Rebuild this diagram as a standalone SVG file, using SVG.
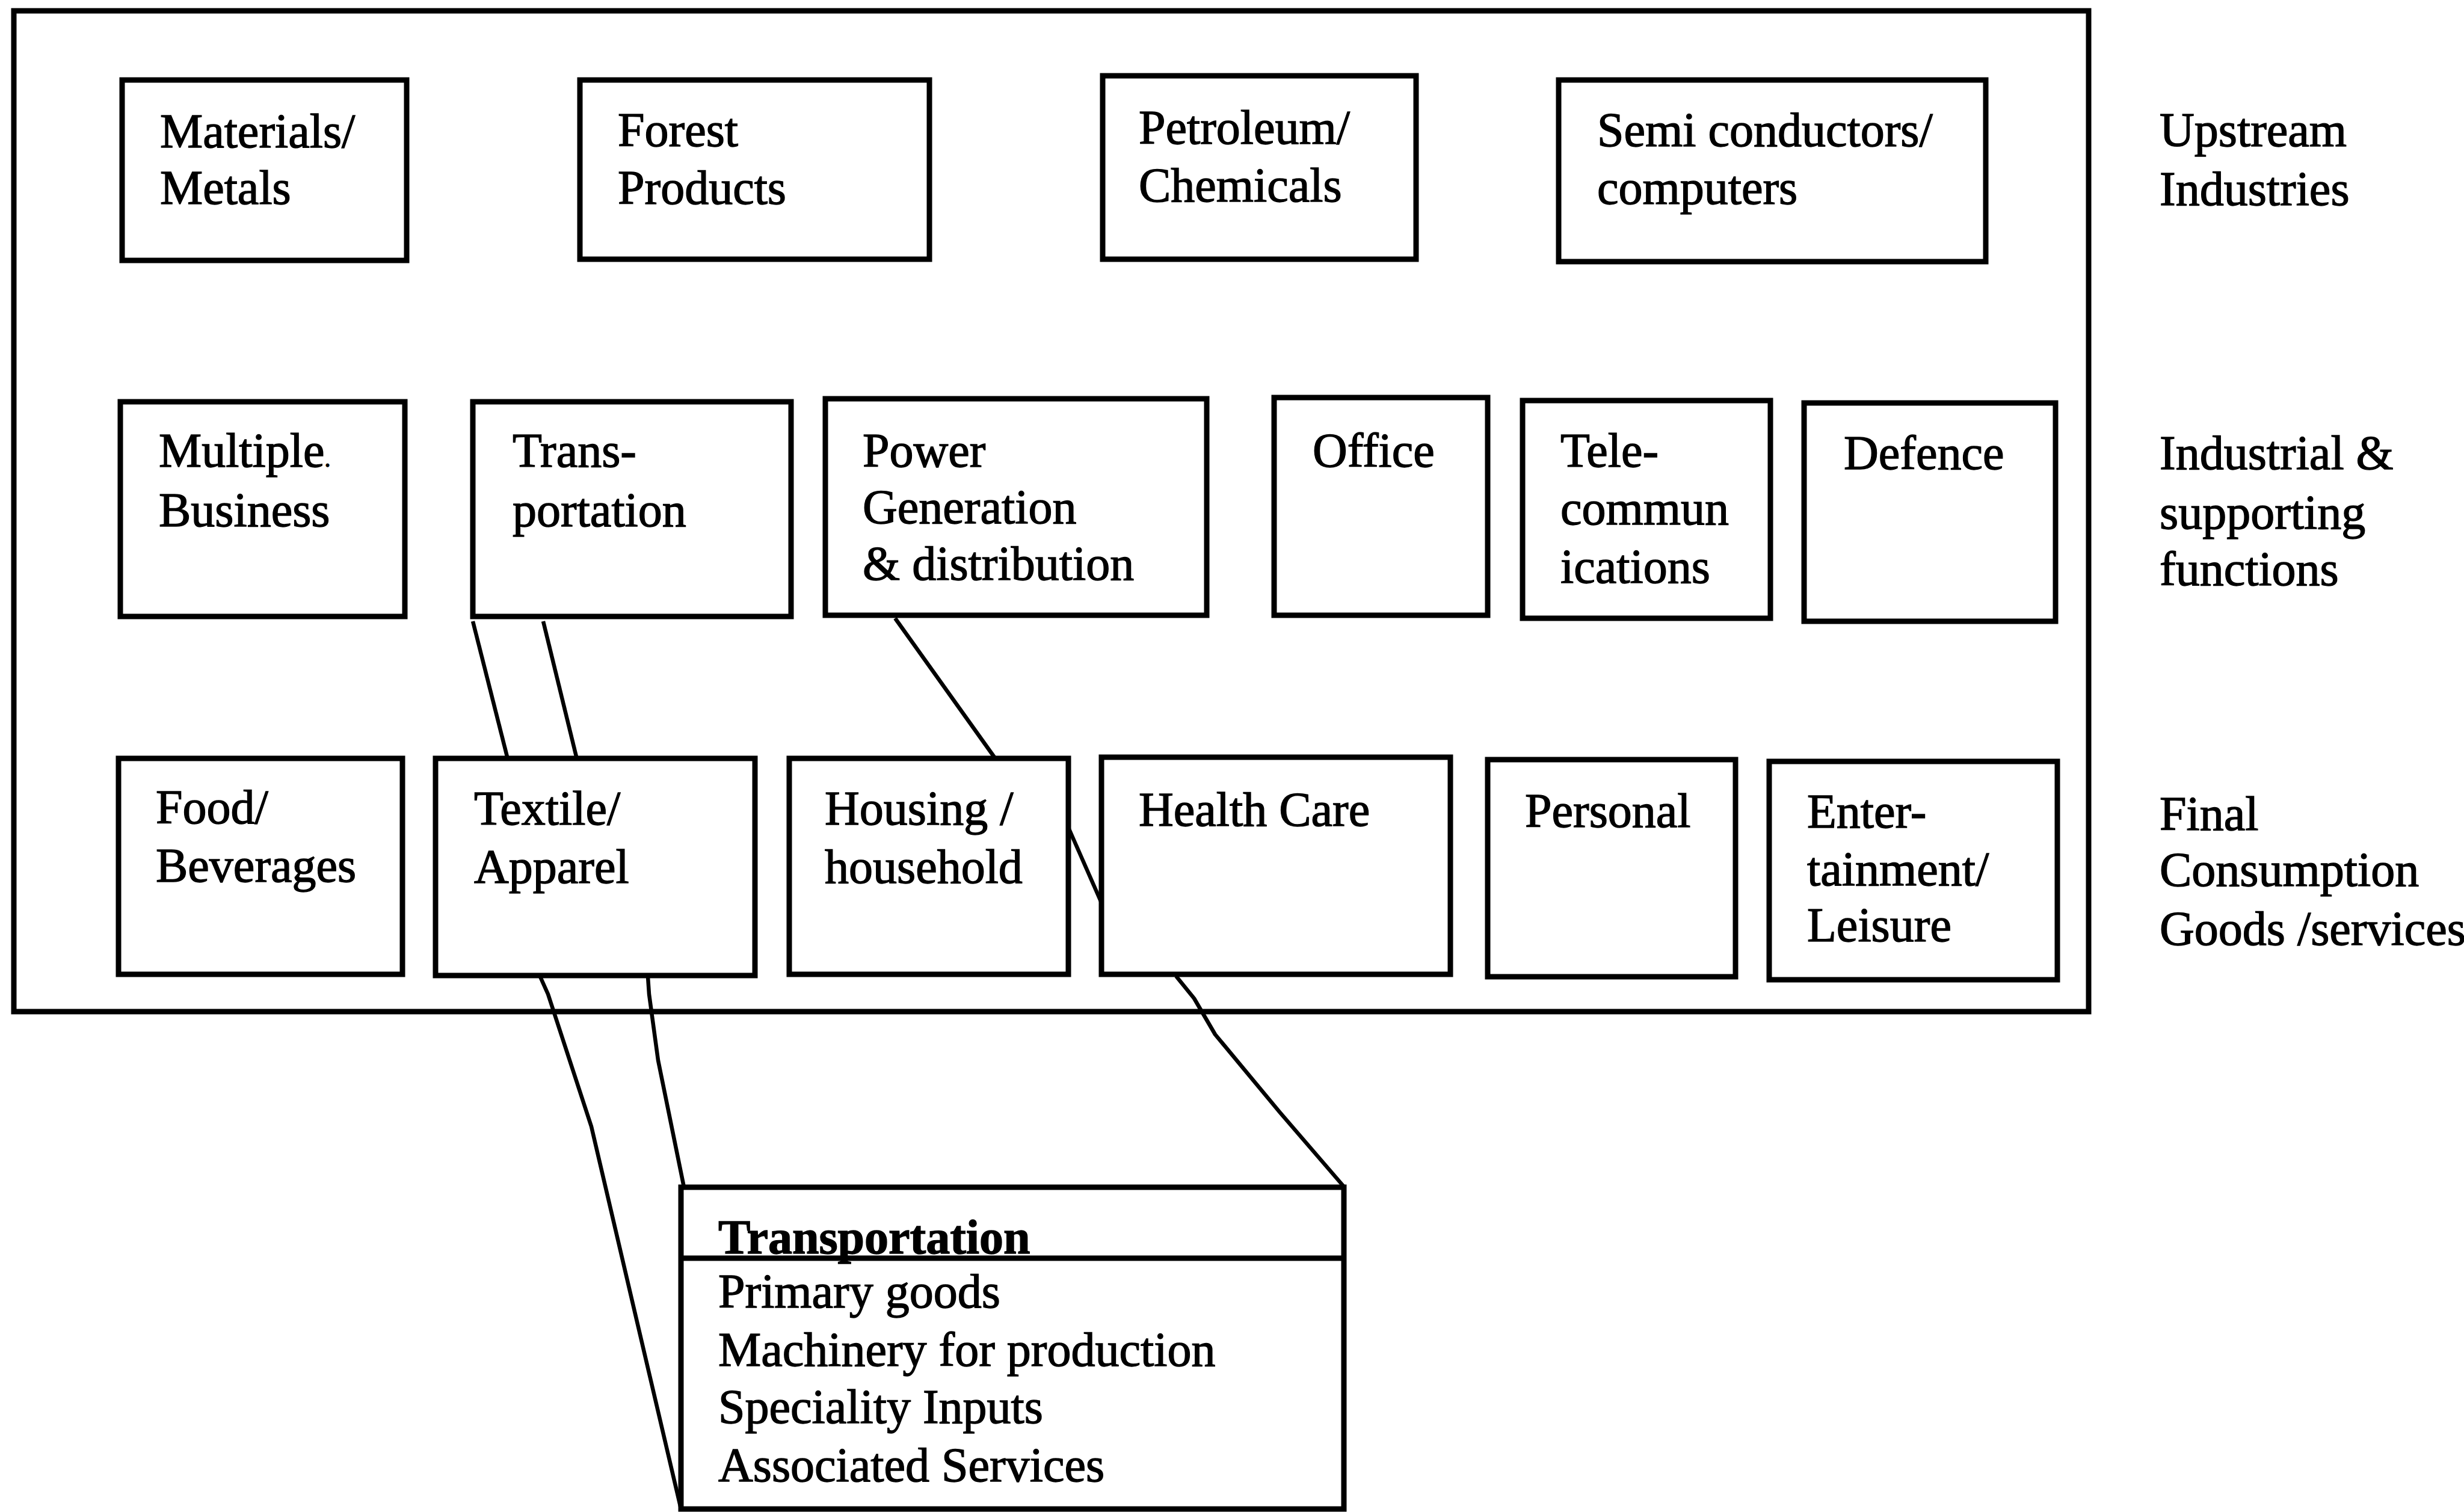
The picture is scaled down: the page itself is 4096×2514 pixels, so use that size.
<svg xmlns="http://www.w3.org/2000/svg" width="4096" height="2514" viewBox="0 0 4096 2514">
  <style>
    .box { fill: #fff; stroke: #000; stroke-width: 9; }
    .frame { fill: none; stroke: #000; stroke-width: 9; }
    .link { fill: none; stroke: #000; stroke-width: 6.5; stroke-linejoin: round; }
    text { font-family: "Liberation Serif", "Times New Roman", serif; font-size: 80px; fill: #000; stroke: #000; stroke-width: 1.4; }
    .head { font-weight: bold; }
  </style>
  <rect width="4096" height="2514" fill="#fff"/>

  <!-- outer frame -->
  <rect class="frame" x="23" y="18" width="3449" height="1664"/>

  <!-- connectors (drawn first, boxes cover them) -->
  <g id="connectors">
    <line class="link" x1="786" y1="1033" x2="843" y2="1258"/>
    <line class="link" x1="903" y1="1033" x2="958" y2="1258"/>
    <polyline class="link" points="898,1624 911,1653 983,1873 1060,2202 1132,2509"/>
    <polyline class="link" points="1077,1624 1079,1653 1094,1763 1137,1974"/>
    <line class="link" x1="1488" y1="1028" x2="1653" y2="1259"/>
    <line class="link" x1="1776" y1="1376" x2="1831" y2="1501"/>
    <polyline class="link" points="1955,1623 1985,1660 2020,1720 2128,1850 2234,1973"/>
  </g>

  <!-- upstream industries -->
  <g id="materials"><rect class="box" x="203" y="133" width="473" height="300"/>
    <text x="266" y="245">Materials/</text><text x="266" y="339">Metals</text></g>
  <g id="forest"><rect class="box" x="964" y="133" width="581" height="298"/>
    <text x="1027" y="243">Forest</text><text x="1027" y="339">Products</text></g>
  <g id="petroleum"><rect class="box" x="1833" y="126" width="521" height="305"/>
    <text x="1893" y="239">Petroleum/</text><text x="1893" y="335">Chemicals</text></g>
  <g id="semiconductors"><rect class="box" x="2591" y="133" width="710" height="302"/>
    <text x="2655" y="243">Semi conductors/</text><text x="2655" y="339">computers</text></g>

  <!-- industrial and supporting functions -->
  <g id="multiple"><rect class="box" x="200" y="668" width="473" height="357"/>
    <text x="264" y="776">Multiple<tspan font-size="40">.</tspan></text><text x="264" y="875">Business</text></g>
  <g id="transport"><rect class="box" x="786" y="668" width="529" height="357"/>
    <text x="852" y="776">Trans-</text><text x="852" y="875">portation</text></g>
  <g id="power"><rect class="box" x="1372" y="663" width="634" height="360"/>
    <text x="1434" y="776">Power</text><text x="1434" y="870">Generation</text><text x="1434" y="964">&amp; distribution</text></g>
  <g id="office"><rect class="box" x="2118" y="661" width="355" height="362"/>
    <text x="2182" y="776">Office</text></g>
  <g id="telecom"><rect class="box" x="2531" y="666" width="412" height="362"/>
    <text x="2594" y="776">Tele-</text><text x="2594" y="872">commun</text><text x="2594" y="969">ications</text></g>
  <g id="defence"><rect class="box" x="2999" y="670" width="418" height="363"/>
    <text x="3065" y="780">Defence</text></g>

  <!-- final consumption goods / services -->
  <g id="food"><rect class="box" x="197" y="1261" width="472" height="359"/>
    <text x="259" y="1369">Food/</text><text x="259" y="1466">Beverages</text></g>
  <g id="textile"><rect class="box" x="724" y="1261" width="531" height="361"/>
    <text x="788" y="1371">Textile/</text><text x="788" y="1468">Apparel</text></g>
  <g id="housing"><rect class="box" x="1312" y="1261" width="464" height="359"/>
    <text x="1371" y="1371">Housing /</text><text x="1371" y="1468">household</text></g>
  <g id="health"><rect class="box" x="1831" y="1259" width="580" height="361"/>
    <text x="1893" y="1373">Health Care</text></g>
  <g id="personal"><rect class="box" x="2473" y="1263" width="412" height="361"/>
    <text x="2535" y="1375">Personal</text></g>
  <g id="entertainment"><rect class="box" x="2941" y="1266" width="479" height="363"/>
    <text x="3004" y="1376">Enter-</text><text x="3004" y="1472">tainment/</text><text x="3004" y="1565">Leisure</text></g>

  <!-- level labels -->
  <g id="label-upstream"><text x="3590" y="243">Upstream</text><text x="3590" y="341">Industries</text></g>
  <g id="label-industrial"><text x="3590" y="780">Industrial &amp;</text><text x="3590" y="879">supporting</text><text x="3590" y="973">functions</text></g>
  <g id="label-final"><text x="3590" y="1380">Final</text><text x="3590" y="1473">Consumption</text><text x="3590" y="1571">Goods /services</text></g>

  <!-- detail box -->
  <g id="transport-detail">
    <rect class="box" x="1132" y="1974" width="1102" height="535"/>
    <line x1="1132" y1="2092" x2="2234" y2="2092" stroke="#000" stroke-width="9"/>
    <text class="head" x="1194" y="2084">Transportation</text>
    <text x="1194" y="2174">Primary goods</text>
    <text x="1194" y="2271">Machinery for production</text>
    <text x="1194" y="2366">Speciality Inputs</text>
    <text x="1194" y="2463">Associated Services</text>
  </g>
</svg>
